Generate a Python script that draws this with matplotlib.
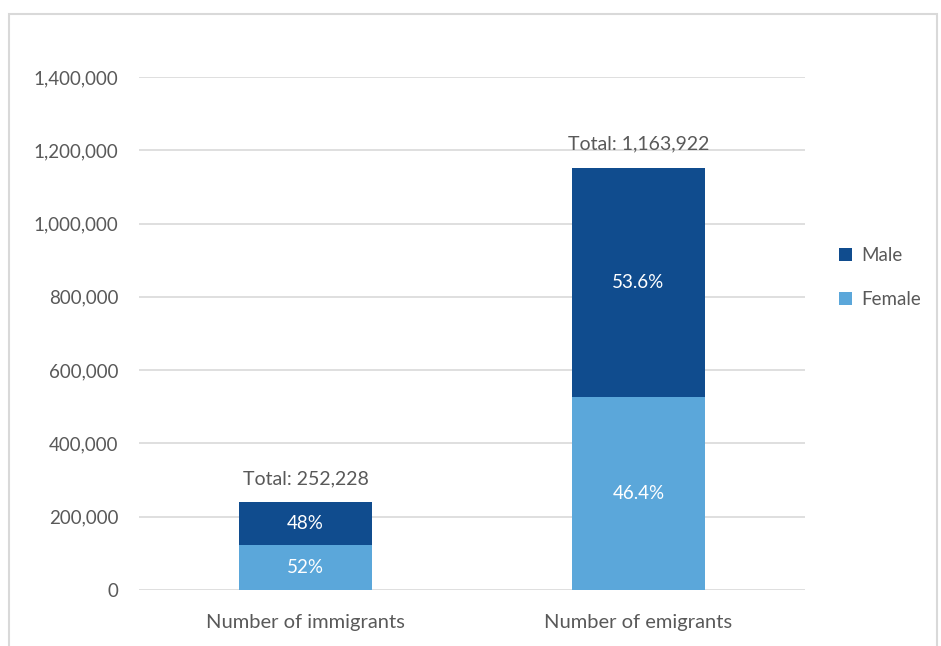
import numpy as np
import matplotlib.pyplot as plt
from matplotlib.patches import Rectangle

# Data
categories = ['Number of immigrants', 'Number of emigrants']
female = [122000, 527500]
male = [117300, 625000]
female_pct = ['52%', '46.4%']
male_pct = ['48%', '53.6%']
totals = ['Total: 252,228', 'Total: 1,163,922']
yticks = [0, 200000, 400000, 600000, 800000, 1000000, 1200000, 1400000]

DARK = '#104C8E'
LIGHT = '#5BA7DA'
GREY = '#595959'

plt.rcParams['font.family'] = ['Lato', 'DejaVu Sans']

fig = plt.figure(figsize=(9.41, 6.46), dpi=100)
ax = fig.add_axes([0.1477, 0.0867, 0.7078, 0.7941])

x = np.arange(len(categories))
b1 = ax.bar(x, female, width=0.4, color=LIGHT, label='Female', zorder=3)
b2 = ax.bar(x, male, width=0.4, bottom=female, color=DARK, label='Male', zorder=3)

for i in range(len(x)):
    ax.text(x[i], female[i] / 2, female_pct[i], ha='center', va='center',
            color='white', fontsize=13.5, zorder=4)
    ax.text(x[i], female[i] + male[i] / 2, male_pct[i], ha='center', va='center',
            color='white', fontsize=13.5, zorder=4)
    ax.annotate(totals[i], (x[i], female[i] + male[i]), xytext=(0, 11),
                textcoords='offset points', ha='center', va='bottom',
                color=GREY, fontsize=14)

ax.set_xlim(-0.5, 1.5)
ax.set_ylim(0, 1400000)
ax.set_yticks(yticks)
ax.set_yticklabels([f'{v:,}' for v in yticks])
ax.set_xticks(x)
ax.set_xticklabels(categories)
ax.tick_params(axis='both', length=0, colors=GREY)
ax.tick_params(axis='y', pad=15, labelsize=13.5)
ax.tick_params(axis='x', pad=17, labelsize=14.5)
ax.yaxis.grid(True, color='#D9D9D9', linewidth=1.2, zorder=0)
ax.set_axisbelow(True)
for s in ax.spines.values():
    s.set_visible(False)

handles = [b2, b1]
leg = fig.legend(handles, ['Male', 'Female'], loc='center left',
                 bbox_to_anchor=(0.874, 0.57), frameon=False, fontsize=13.5,
                 handlelength=0.7, handleheight=0.7, handletextpad=0.45,
                 labelspacing=1.45, labelcolor=GREY)

# outer border of the chart area
fig.patches.append(Rectangle((9 / 941, -0.05), (937 - 9) / 941, 1.05 - 14 / 646,
                             transform=fig.transFigure, fill=False,
                             edgecolor='#D9D9D9', linewidth=1.5))

plt.savefig('out.png', dpi=100)
